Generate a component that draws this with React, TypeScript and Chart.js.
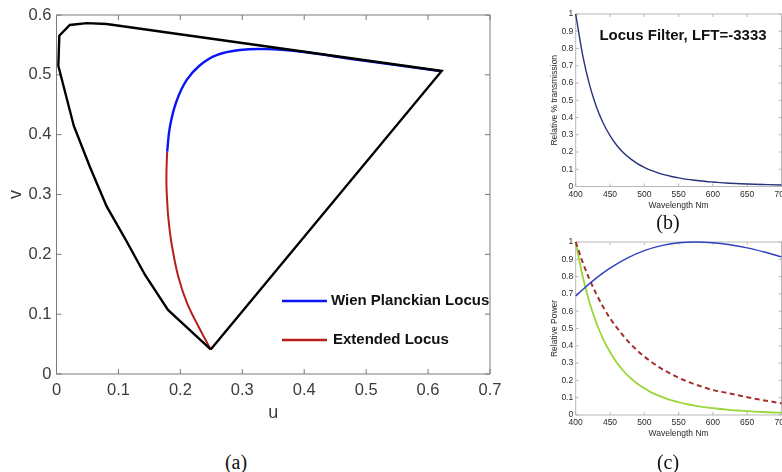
import React, { useEffect, useRef } from "react";
import { Chart, registerables } from "chart.js";

Chart.register(...registerables);

// ---------- Panel (a): CIE 1960 u,v diagram ----------
const locusU = [0.249, 0.180, 0.143, 0.112, 0.081, 0.054, 0.028, 0.003, 0.0045, 0.0215, 0.049, 0.081, 0.622, 0.249];
const locusV = [0.041, 0.107, 0.1655, 0.224, 0.280, 0.346, 0.4145, 0.5148, 0.5655, 0.5833, 0.5864, 0.585, 0.5064, 0.041];
const wienU = [0.1787, 0.1831, 0.1935, 0.2100, 0.2316, 0.2585, 0.2962, 0.339, 0.393, 0.447, 0.501, 0.555, 0.619];
const wienV = [0.3717, 0.413, 0.455, 0.491, 0.516, 0.533, 0.5415, 0.543, 0.539, 0.531, 0.523, 0.5153, 0.5063];
const extU = [0.1787, 0.1776, 0.1776, 0.1787, 0.1804, 0.1858, 0.1966, 0.211, 0.232, 0.249];
const extV = [0.3717, 0.340, 0.313, 0.290, 0.263, 0.218, 0.163, 0.118, 0.074, 0.041];
const uTicks = [0, 0.1, 0.2, 0.3, 0.4, 0.5, 0.6, 0.7];
const vTicks = [0, 0.1, 0.2, 0.3, 0.4, 0.5, 0.6];

// ---------- Panel (b): locus filter transmission ----------
const wavelengths = [400, 410, 420, 430, 440, 450, 460, 470, 480, 490, 500, 510, 520, 530, 540, 550, 560, 570, 580, 590, 600, 620, 640, 660, 680, 700];
const transmission = [1.0, 0.765, 0.592, 0.464, 0.368, 0.295, 0.238, 0.194, 0.16, 0.133, 0.111, 0.093, 0.079, 0.067, 0.058, 0.05, 0.043, 0.038, 0.033, 0.029, 0.026, 0.02, 0.016, 0.013, 0.011, 0.009];
const wlTicks = [400, 450, 500, 550, 600, 650, 700];
const relTicks = [0, 0.1, 0.2, 0.3, 0.4, 0.5, 0.6, 0.7, 0.8, 0.9, 1];

// ---------- Panel (c): relative power ----------
const wlBlue = [400, 412.5, 425, 437.5, 450, 475, 500, 525, 550, 575, 600, 625, 650, 675, 700];
const powerBlue = [0.688, 0.733, 0.775, 0.814, 0.849, 0.907, 0.95, 0.979, 0.995, 1.0, 0.996, 0.984, 0.966, 0.942, 0.914];
const powerRed = [1.0, 0.885, 0.785, 0.7, 0.625, 0.56, 0.505, 0.455, 0.41, 0.372, 0.338, 0.308, 0.28, 0.256, 0.235, 0.215, 0.198, 0.183, 0.169, 0.156, 0.144, 0.128, 0.111, 0.095, 0.081, 0.068];
const powerGreen = [1.0, 0.805, 0.653, 0.533, 0.439, 0.364, 0.302, 0.253, 0.213, 0.181, 0.154, 0.131, 0.113, 0.098, 0.085, 0.074, 0.064, 0.057, 0.05, 0.044, 0.04, 0.031, 0.025, 0.02, 0.016, 0.013];

const FONT = "'Liberation Sans', Arial, Helvetica, sans-serif";
const SERIF = "'Liberation Serif', 'Times New Roman', serif";

const pts = (xs: number[], ys: number[]) => xs.map((x, i) => ({ x, y: ys[i] }));
const fmt1 = (v: any) => {
  const s = Number(v).toFixed(1);
  return s.endsWith(".0") ? s.slice(0, -2) : s;
};

function boxTicks(color: string, width: number, len: number) {
  return {
    id: "boxTicks",
    beforeDatasetsDraw(chart: any) {
      const { ctx, chartArea: a, scales } = chart;
      ctx.save();
      ctx.strokeStyle = color;
      ctx.lineWidth = width;
      ctx.beginPath();
      ctx.rect(a.left, a.top, a.right - a.left, a.bottom - a.top);
      for (const t of scales.x.ticks) {
        const p = scales.x.getPixelForValue(t.value);
        ctx.moveTo(p, a.bottom);
        ctx.lineTo(p, a.bottom - len);
        ctx.moveTo(p, a.top);
        ctx.lineTo(p, a.top + len);
      }
      for (const t of scales.y.ticks) {
        const p = scales.y.getPixelForValue(t.value);
        ctx.moveTo(a.left, p);
        ctx.lineTo(a.left + len, p);
        ctx.moveTo(a.right, p);
        ctx.lineTo(a.right - len, p);
      }
      ctx.stroke();
      ctx.restore();
    },
  };
}

function makeScale(opts: {
  min: number; max: number; ticks: number[]; fit: number; isX: boolean;
  fontSize: number; color: string; pad: number; title: string; titleSize: number; titlePad: number; fmt: (v: any) => string;
}) {
  return {
    type: "linear",
    min: opts.min,
    max: opts.max,
    afterBuildTicks: (s: any) => { s.ticks = opts.ticks.map((v) => ({ value: v })); },
    afterFit: (s: any) => { if (opts.isX) s.height = opts.fit; else s.width = opts.fit; },
    grid: { display: false, drawTicks: false },
    border: { display: false },
    ticks: {
      padding: opts.pad, color: opts.color, autoSkip: false, maxRotation: 0,
      font: { family: FONT, size: opts.fontSize }, callback: opts.fmt,
    },
    title: {
      display: true, text: opts.title, color: opts.color,
      font: { family: FONT, size: opts.titleSize },
      padding: opts.isX ? { top: 0, bottom: opts.titlePad } : { top: opts.titlePad, bottom: 0 },
    },
  };
}

export default function App() {
  const refA = useRef<HTMLCanvasElement>(null);
  const refB = useRef<HTMLCanvasElement>(null);
  const refC = useRef<HTMLCanvasElement>(null);

  useEffect(() => {
    const charts: Chart[] = [];

    const legendA = {
      id: "insideLegend",
      afterDatasetsDraw(chart: any) {
        const { ctx } = chart;
        const items = [
          { index: 1, y: 301, tx: 331 },
          { index: 2, y: 340, tx: 333 },
        ];
        ctx.save();
        for (const it of items) {
          const ds = chart.data.datasets[it.index];
          ctx.strokeStyle = ds.borderColor;
          ctx.lineWidth = 2.6;
          ctx.beginPath();
          ctx.moveTo(282, it.y);
          ctx.lineTo(327, it.y);
          ctx.stroke();
          ctx.fillStyle = "#111";
          ctx.font = `bold 15px ${FONT}`;
          ctx.textBaseline = "middle";
          ctx.textAlign = "left";
          ctx.fillText(ds.label, it.tx, it.y);
        }
        ctx.restore();
      },
    };

    charts.push(new Chart(refA.current!, {
      type: "line",
      data: {
        datasets: [
          { label: "Spectral Locus", data: pts(locusU, locusV), borderColor: "#000000", borderWidth: 2.4, pointRadius: 0, tension: 0 },
          { label: "Wien Planckian Locus", data: pts(wienU, wienV), borderColor: "#0a14f5", borderWidth: 2.4, pointRadius: 0, tension: 0.4 },
          { label: "Extended Locus", data: pts(extU, extV), borderColor: "#b5201d", borderWidth: 2, pointRadius: 0, tension: 0.4 },
        ],
      } as any,
      options: {
        animation: false, responsive: false, events: [],
        layout: { padding: { left: 0, top: 15, right: 40, bottom: 0 } },
        plugins: { legend: { display: false }, tooltip: { enabled: false } },
        scales: {
          x: makeScale({ min: 0, max: 0.7, ticks: uTicks, fit: 66, isX: true, fontSize: 16.5, color: "#3c3c3c", pad: 6.5, title: "u", titleSize: 18, titlePad: 16, fmt: fmt1 }),
          y: makeScale({ min: 0, max: 0.6, ticks: vTicks, fit: 56.5, isX: false, fontSize: 16.5, color: "#3c3c3c", pad: 5, title: "v", titleSize: 18, titlePad: 5, fmt: fmt1 }),
        },
      } as any,
      plugins: [boxTicks("#7a7a7a", 1, 5), legendA],
    }));

    const titleB = {
      id: "innerTitle",
      afterDatasetsDraw(chart: any) {
        const { ctx } = chart;
        ctx.save();
        ctx.fillStyle = "#111";
        ctx.font = `bold 15px ${FONT}`;
        ctx.textAlign = "center";
        ctx.textBaseline = "middle";
        ctx.fillText("Locus Filter, LFT=-3333", 143, 36);
        ctx.restore();
      },
    };

    charts.push(new Chart(refB.current!, {
      type: "line",
      data: {
        datasets: [
          { label: "Transmission", data: pts(wavelengths, transmission), borderColor: "#27327a", borderWidth: 1.4, pointRadius: 0, cubicInterpolationMode: "monotone", clip: false },
        ],
      } as any,
      options: {
        animation: false, responsive: false, events: [],
        layout: { padding: { left: 0, top: 14, right: 20.5, bottom: 0 } },
        plugins: { legend: { display: false }, tooltip: { enabled: false } },
        scales: {
          x: makeScale({ min: 400, max: 700, ticks: wlTicks, fit: 28.5, isX: true, fontSize: 8.5, color: "#2a2a2a", pad: 3.4, title: "Wavelength Nm", titleSize: 8.5, titlePad: 4.4, fmt: (v) => String(v) }),
          y: makeScale({ min: 0, max: 1, ticks: relTicks, fit: 35.7, isX: false, fontSize: 8.5, color: "#2a2a2a", pad: 2.5, title: "Relative % transmission", titleSize: 8.5, titlePad: 10, fmt: fmt1 }),
        },
      } as any,
      plugins: [boxTicks("#b8b8b8", 1, 3), titleB],
    }));

    charts.push(new Chart(refC.current!, {
      type: "line",
      data: {
        datasets: [
          { label: "Source", data: pts(wlBlue, powerBlue), borderColor: "#3040c0", borderWidth: 1.5, pointRadius: 0, cubicInterpolationMode: "monotone", clip: false },
          { label: "Target", data: pts(wavelengths, powerRed), borderColor: "#a3302b", borderWidth: 2, borderDash: [5, 3.5], pointRadius: 0, cubicInterpolationMode: "monotone", clip: false },
          { label: "Filtered", data: pts(wavelengths, powerGreen), borderColor: "#9ad63a", borderWidth: 1.8, pointRadius: 0, cubicInterpolationMode: "monotone", clip: false },
        ],
      } as any,
      options: {
        animation: false, responsive: false, events: [],
        layout: { padding: { left: 0, top: 17, right: 20.5, bottom: 0 } },
        plugins: { legend: { display: false }, tooltip: { enabled: false } },
        scales: {
          x: makeScale({ min: 400, max: 700, ticks: wlTicks, fit: 32, isX: true, fontSize: 8.5, color: "#2a2a2a", pad: 3, title: "Wavelength Nm", titleSize: 8.5, titlePad: 8, fmt: (v) => String(v) }),
          y: makeScale({ min: 0, max: 1, ticks: relTicks, fit: 35.7, isX: false, fontSize: 8.5, color: "#2a2a2a", pad: 2.5, title: "Relative Power", titleSize: 8.5, titlePad: 10, fmt: fmt1 }),
        },
      } as any,
      plugins: [boxTicks("#b8b8b8", 1, 3)],
    }));

    return () => charts.forEach((c) => c.destroy());
  }, []);

  const cap = (text: string, x: number, y: number): React.CSSProperties => ({
    position: "absolute", left: x, top: y, transform: "translate(-50%, -50%)",
    fontFamily: SERIF, fontSize: 20, lineHeight: 1, color: "#111", whiteSpace: "nowrap",
  });

  return (
    <div style={{ position: "absolute", left: 0, top: 0, width: 782, height: 472, overflow: "hidden", background: "#fff" }}>
      <canvas ref={refA} width={530} height={440} style={{ position: "absolute", left: 0, top: 0 }} />
      <canvas ref={refB} width={262} height={215} style={{ position: "absolute", left: 540, top: 0 }} />
      <canvas ref={refC} width={262} height={222} style={{ position: "absolute", left: 540, top: 225 }} />
      <div style={cap("(a)", 236, 462)}>(a)</div>
      <div style={cap("(b)", 668, 222)}>(b)</div>
      <div style={cap("(c)", 668, 462)}>(c)</div>
    </div>
  );
}
